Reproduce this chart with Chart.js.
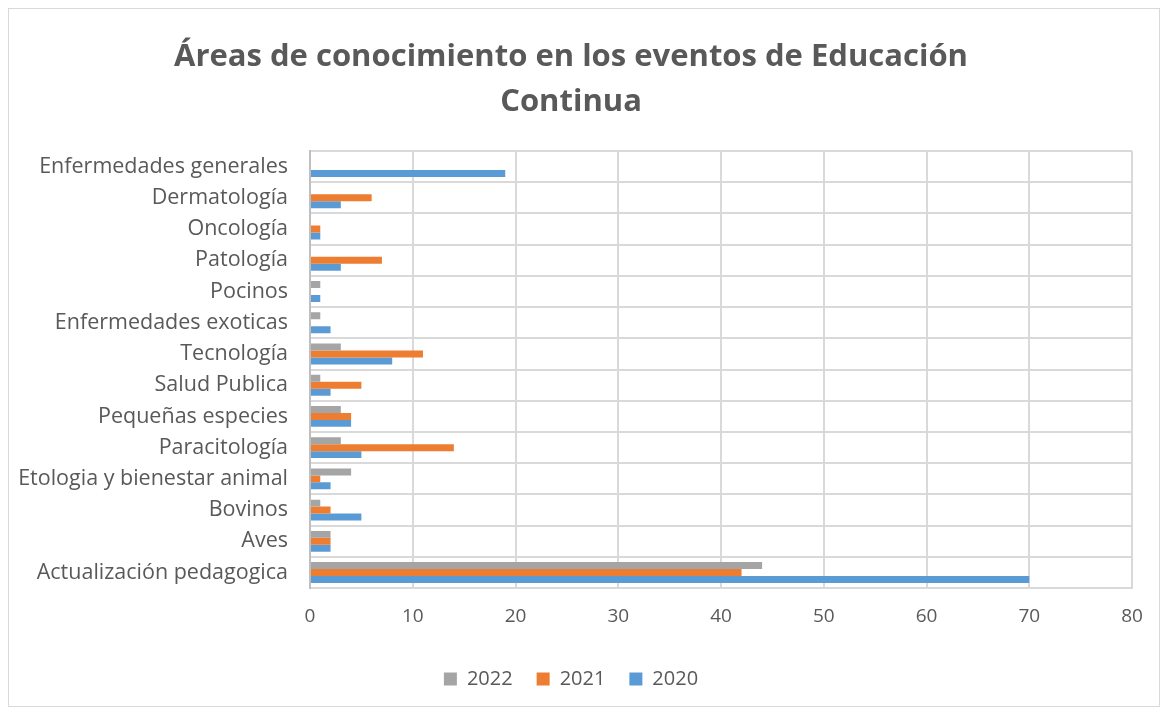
<!DOCTYPE html>
<html lang="es">
<head>
  <meta charset="UTF-8">
  <title>Áreas de conocimiento</title>
  <script src="https://cdn.jsdelivr.net/npm/chart.js"></script>
  <style>
    body { margin: 0; background: #fff; }
    .box {
      position: absolute;
      left: 8px; top: 8px;
      width: 1152px; height: 699px;
      border: 1px solid #d9d9d9;
      box-sizing: border-box;
    }
    .wrap { position: absolute; left: 0; top: 0; width: 1164px; height: 711px; }
  </style>
</head>
<body>
  <div class="box"></div>
  <div class="wrap"><canvas id="chart" width="1164" height="711"></canvas></div>
  <script>
    const categories = [
      'Enfermedades generales', 'Dermatología', 'Oncología', 'Patología', 'Pocinos',
      'Enfermedades exoticas', 'Tecnología', 'Salud Publica', 'Pequeñas especies',
      'Paracitología', 'Etologia y bienestar animal', 'Bovinos', 'Aves', 'Actualización pedagogica'
    ];
    const values2022 = [0, 0, 0, 0, 1, 1, 3, 1, 3, 3, 4, 1, 2, 44];
    const values2021 = [0, 6, 1, 7, 0, 0, 11, 5, 4, 14, 1, 2, 2, 42];
    const values2020 = [19, 3, 1, 3, 1, 2, 8, 2, 4, 5, 2, 5, 2, 70];
    const xTicks = [0, 10, 20, 30, 40, 50, 60, 70, 80];

    const font = "'Open Sans', sans-serif";
    const textColor = '#595959';

    const ctx = document.getElementById('chart').getContext('2d');
    new Chart(ctx, {
      type: 'bar',
      data: {
        labels: categories,
        datasets: [
          { label: '2022', data: values2022, backgroundColor: '#a5a5a5' },
          { label: '2021', data: values2021, backgroundColor: '#ed7d31' },
          { label: '2020', data: values2020, backgroundColor: '#5b9bd5' }
        ]
      },
      options: {
        indexAxis: 'y',
        responsive: false,
        animation: false,
        layout: { padding: { left: 10, right: 32, top: 35, bottom: 12 } },
        datasets: { bar: { categoryPercentage: 0.67, barPercentage: 1.0 } },
        plugins: {
          title: {
            display: true,
            text: ['Áreas de conocimiento en los eventos de Educación', 'Continua'],
            color: textColor,
            font: { family: font, size: 31, weight: 'bold', lineHeight: 1.45 },
            padding: { top: 0, bottom: 26 }
          },
          legend: {
            position: 'bottom',
            labels: {
              color: textColor,
              font: { family: font, size: 20 },
              boxWidth: 13, boxHeight: 13, padding: 24
            }
          },
          tooltip: { enabled: false }
        },
        scales: {
          x: {
            min: 0, max: 80,
            afterBuildTicks: (s) => { s.ticks = xTicks.map(v => ({ value: v })); },
            grid: { color: '#d9d9d9', lineWidth: 2, drawTicks: false },
            border: { color: '#d9d9d9', width: 2 },
            ticks: { color: textColor, font: { family: font, size: 19 }, padding: 17 }
          },
          y: {
            afterFit: (s) => { s.width = 300; },
            grid: { color: '#d9d9d9', lineWidth: 2, drawTicks: false, offset: true },
            border: { color: '#bfbfbf', width: 2 },
            ticks: { color: textColor, font: { family: font, size: 21.5 }, padding: 22, autoSkip: false }
          }
        }
      }
    });
  </script>
</body>
</html>
